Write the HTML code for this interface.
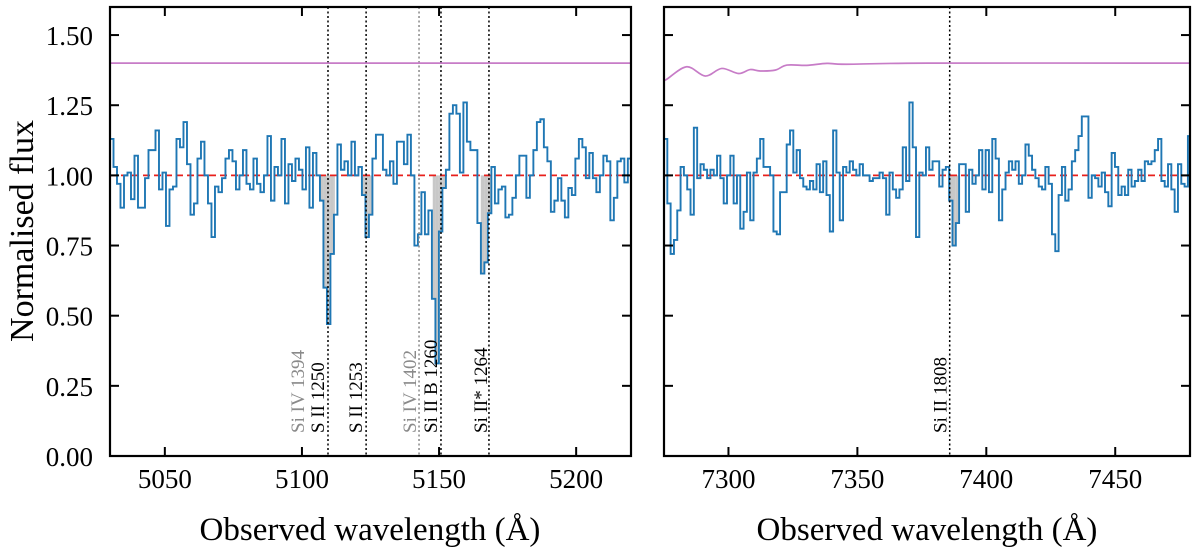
<!DOCTYPE html>
<html><head><meta charset="utf-8">
<style>
html,body{margin:0;padding:0;background:#fff;}
svg{display:block;font-family:"Liberation Serif","DejaVu Serif",serif;}
</style></head>
<body>
<svg id="fig" width="1200" height="553" viewBox="0 0 1200 553" xmlns="http://www.w3.org/2000/svg">
<text x="0" y="0" transform="translate(33,231) rotate(-90)" text-anchor="middle" font-size="34">Normalised flux</text>
<text x="370" y="540" text-anchor="middle" font-size="33">Observed wavelength (Å)</text>
<text x="927" y="540" text-anchor="middle" font-size="33">Observed wavelength (Å)</text>
</svg>
<script>
// ---- data: left panel ----
const leftStart = 5030;
const leftStep = 1.276;
const leftFlux = [1.13,1.03,0.97,0.885,1.0,1.01,0.915,1.07,0.885,0.885,
0.99,1.09,1.09,1.16,0.95,1.01,0.82,0.95,0.96,1.13,
1.10,1.19,1.04,0.86,0.9,1.06,1.12,1.0,0.9,0.78,
0.96,0.94,0.99,1.06,1.09,1.05,0.95,1.0,1.09,0.97,
0.95,1.06,0.97,0.94,1.0,1.14,0.91,1.03,1.0,1.13,
0.9,1.04,0.98,1.06,1.02,0.95,1.10,0.885,1.08,1.0,
0.91,0.60,0.47,0.72,0.86,1.11,1.02,1.05,1.0,1.12,
1.0,1.03,0.93,0.78,0.86,
1.06,1.145,1.145,1.02,1.0,1.05,0.97,1.12,1.12,1.04,1.145,1.0,0.75,0.79,0.94,0.79,0.875,0.56,0.33,0.8,
0.955,1.02,1.22,1.25,1.22,1.01,1.26,1.12,1.09,1.09,0.83,0.65,0.69,0.865,1.03,0.9,0.95,0.96,0.85,0.86,
0.92,1.0,1.07,1.07,0.92,1.0,1.09,1.19,1.2,1.1,1.05,0.87,0.91,0.99,0.91,0.85,0.955,0.93,1.06,1.13,
1.10,0.99,1.08,0.99,0.94,1.0,1.07,1.05,0.84,0.92,1.05,1.06,0.975,1.06];
const leftShade = [[5105.9,5112],[5121,5126],[5147.7,5154.3],[5165.2,5170]];
const leftLines = [5109.5,5123.4,5142.7,5150.7,5168.2];
const leftLineGray = [false,false,true,false,false];
const leftLabels = ["Si IV 1394","S II 1250","S II 1253","Si IV 1402","Si II B 1260","Si II* 1264"];
const leftLabelWl = [5100.8,5108.0,5121.9,5141.6,5149.3,5167.5];
const leftLabelGray = [true,false,false,true,false,false];
const leftContWl = [5030,5220];
const leftCont = [1.40,1.40];
const leftTicks = [5050,5100,5150,5200];
// ---- data: right panel ----
const rightStart = 7275;
const rightStep = 1.286;
const rightFlux = [1.13,0.90,0.72,0.77,0.875,1.03,1.0,0.95,0.86,1.17,
0.99,1.04,1.02,0.99,1.02,1.0,1.07,0.99,0.90,1.0,
1.07,0.90,1.0,0.81,0.87,1.01,0.84,1.01,1.06,1.13,
1.03,1.03,1.0,0.80,0.79,0.94,0.94,1.11,1.16,1.01,
1.09,0.99,0.96,0.95,0.98,0.95,1.04,0.94,1.05,0.93,
0.80,1.16,1.01,0.84,1.03,1.01,1.05,1.02,1.0,1.04,
1.0,1.0,0.98,0.99,0.99,1.01,0.99,0.86,1.01,0.95,
0.92,0.95,1.10,0.98,1.26,1.10,0.78,1.01,1.0,1.10,
1.02,1.05,1.05,0.96,1.02,1.03,0.91,0.75,0.83,1.04,
1.04,0.87,1.02,0.97,1.0,1.09,0.95,1.09,0.94,1.13,
1.06,0.84,0.95,1.01,1.05,1.02,1.05,0.97,1.0,1.11,
1.07,1.02,0.99,0.96,0.95,1.03,0.97,0.79,0.73,0.93,
1.03,0.91,0.95,1.05,1.09,1.14,1.21,1.21,0.92,1.0,
0.99,0.96,1.01,0.94,0.89,1.08,1.03,0.93,0.96,0.93,
1.02,0.96,0.98,1.02,0.98,1.05,1.04,1.05,1.09,1.13,
0.98,0.96,1.04,0.95,0.87,1.04,0.97,0.96,1.14];
const rightShade = [[7384.5,7389.4]];
const rightLines = [7385.8];
const rightLineGray = [false];
const rightLabels = ["Si II 1808"];
const rightLabelWl = [7384.6];
const rightLabelGray = [false];
const rightContWl = [7275,7276,7283.8,7291,7297.4,7303.9,7308.4,7312.3,7318.1,7322.7,7330.4,7338.2,7345.9,7377,7480];
const rightCont = [1.34,1.342,1.387,1.354,1.381,1.363,1.377,1.372,1.375,1.393,1.392,1.399,1.396,1.40,1.40];
const rightTicks = [7300,7350,7400,7450];
const yTicks = [0,0.25,0.5,0.75,1.0,1.25,1.5];
const yTickLabels = ["0.00","0.25","0.50","0.75","1.00","1.25","1.50"];

const NS = "http://www.w3.org/2000/svg";
const svg = document.getElementById('fig');
const Y0 = 456, YT = 7, YMAX = 1.6;
function yScale(v){ return Y0 - v*(Y0-YT)/YMAX; }
function mk(tag, attrs, parent){ const e=document.createElementNS(NS,tag); for(const k in attrs) e.setAttribute(k,attrs[k]); (parent||svg).appendChild(e); return e; }

function panel(name, x0, x1, wl0, wl1, start, step, flux, shade, lines, lineGray, labels, labelWl, labelGray, contWl, cont, ticks, showY){
  const xs = w => x0 + (w-wl0)*(x1-x0)/(wl1-wl0);
  const g = mk('g',{});
  
  
  const cid = 'clip-'+name;
  const cp = mk('clipPath',{id:cid}, g);
  mk('rect',{x:x0,y:YT,width:x1-x0,height:Y0-YT},cp);
  const inner = mk('g',{'clip-path':'url(#'+cid+')'}, g);
  for (let s=0; s<shade.length; s++){
    const [a,b] = shade[s];
    for (let i=0;i<flux.length;i++){
      const l = start+i*step, r = l+step;
      if (r<=a || l>=b || flux[i]>=1) continue;
      const sh = mk('rect',{x:xs(Math.max(l,a)), y:yScale(1), width:xs(Math.min(r,b))-xs(Math.max(l,a)), height:yScale(flux[i])-yScale(1), fill:'#c8c8c8'}, inner);
      
      
    }
  }
  const cl = mk('line',{x1:x0,x2:x1,y1:yScale(1),y2:yScale(1),stroke:'#e8201c','stroke-width':1.8,'stroke-dasharray':'7,4'}, inner);
  
  
  let d='';
  for (let i=0;i<flux.length;i++){
    const l=xs(start+i*step), r=xs(start+(i+1)*step), y=yScale(flux[i]);
    d += (i===0?'M':'L')+l.toFixed(2)+','+y.toFixed(2)+'L'+r.toFixed(2)+','+y.toFixed(2);
  }
  const sp = mk('path',{d:d,fill:'none',stroke:'#1f77b4','stroke-width':1.9}, inner);
  
  
  for (let i=0;i<lines.length;i++){
    const X = xs(lines[i]);
    const vl = mk('line',{x1:X,x2:X,y1:YT,y2:Y0,stroke:lineGray[i]?'#888':'#000','stroke-width':1.5,'stroke-dasharray':'2,2.5'}, inner);
    
    
  }
  const pts = contWl.map((w,i)=>[xs(w), yScale(cont[i])]);
  let cd = 'M'+pts[0][0]+','+pts[0][1];
  for (let i=0;i<pts.length-1;i++){
    const p0=pts[Math.max(0,i-1)], p1=pts[i], p2=pts[i+1], p3=pts[Math.min(pts.length-1,i+2)];
    cd += 'C'+(p1[0]+(p2[0]-p0[0])/6)+','+(p1[1]+(p2[1]-p0[1])/6)+' '+(p2[0]-(p3[0]-p1[0])/6)+','+(p2[1]-(p3[1]-p1[1])/6)+' '+p2[0]+','+p2[1];
  }
  const cc = mk('path',{d:cd,fill:'none',stroke:'#c77cc7','stroke-width':1.7}, inner);
  
  
  for (let i=0;i<labels.length;i++){
    const X = xs(labelWl[i]);
    const t = mk('text',{x:0,y:0,transform:'translate('+X+',433) rotate(-90)','font-size':19,fill:labelGray[i]?'#8a8a8a':'#000'}, g);
    t.textContent = labels[i];
    
    
  }
  const fr = mk('rect',{x:x0,y:YT,width:x1-x0,height:Y0-YT,fill:'none',stroke:'#000','stroke-width':2.2}, g);
  
  
  for (let i=0;i<ticks.length;i++){
    const X = xs(ticks[i]);
    mk('line',{x1:X,x2:X,y1:Y0,y2:Y0-9,stroke:'#000','stroke-width':2}, g);
    mk('line',{x1:X,x2:X,y1:YT,y2:YT+9,stroke:'#000','stroke-width':2}, g);
    const t = mk('text',{x:X,y:488,'text-anchor':'middle','font-size':27}, g);
    t.textContent = ticks[i];
    
    
  }
  for (let i=0;i<yTicks.length;i++){
    const Y = yScale(yTicks[i]);
    mk('line',{x1:x0,x2:x0+9,y1:Y,y2:Y,stroke:'#000','stroke-width':2}, g);
    mk('line',{x1:x1,x2:x1-9,y1:Y,y2:Y,stroke:'#000','stroke-width':2}, g);
    if (showY){
      const t = mk('text',{x:x0-17,y:Y+10,'text-anchor':'end','font-size':27}, g);
      t.textContent = yTickLabels[i];
      
      
    }
  }
}
panel('left', 110, 631, 5030, 5220, leftStart, leftStep, leftFlux, leftShade, leftLines, leftLineGray, leftLabels, leftLabelWl, leftLabelGray, leftContWl, leftCont, leftTicks, true);
panel('right', 664, 1190, 7275, 7479, rightStart, rightStep, rightFlux, rightShade, rightLines, rightLineGray, rightLabels, rightLabelWl, rightLabelGray, rightContWl, rightCont, rightTicks, false);
</script>
</body></html>
